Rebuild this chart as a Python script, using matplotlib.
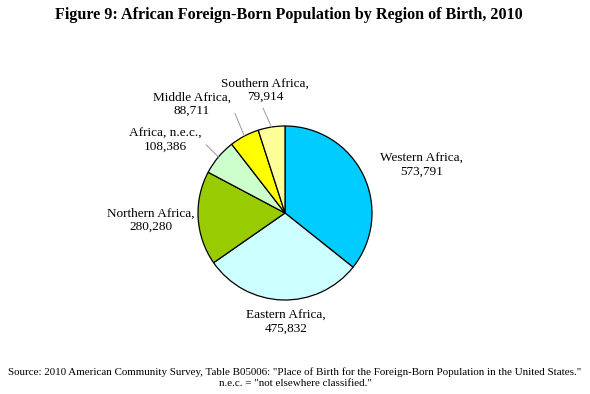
import numpy as np
import matplotlib
matplotlib.use('Agg')
from matplotlib import pyplot as plt

# data
regions = ['Western Africa', 'Eastern Africa', 'Northern Africa',
           'Africa, n.e.c.', 'Middle Africa', 'Southern Africa']
population = [573791, 475832, 280280, 108386, 88711, 79914]
colors = ['#00CCFF', '#CCFFFF', '#99CC00', '#CCFFCC', '#FFFF00', '#FFFF99']

title = 'Figure 9: African Foreign-Born Population by Region of Birth, 2010'
source = ('Source: 2010 American Community Survey, Table B05006: "Place of Birth for the '
          'Foreign-Born Population in the United States."\nn.e.c. = "not elsewhere classified."')

plt.rcParams['font.family'] = ['Liberation Serif', 'DejaVu Serif']

W, H = 590, 394
fig = plt.figure(figsize=(W / 100, H / 100), dpi=100)

# pie placement in pixels (center and radius)
cx, cy, r = 285, 213, 87
ax = fig.add_axes([(cx - r) / W, (H - cy - r) / H, 2 * r / W, 2 * r / H])
wedges, _ = ax.pie(population, colors=colors, startangle=90, counterclock=False,
                   wedgeprops=dict(edgecolor='black', linewidth=0.9))
ax.set_xlim(-1, 1)
ax.set_ylim(-1, 1)
ax.set_aspect('equal')
ax.axis('off')


def px2data(px, py):
    return (px - cx) / r, (cy - py) / r


# label positions in pixels, leader line start (relpos on the text box) or None
label_pos = [(422, 165, None), (286, 322, None), (151, 220, None),
             (165, 140, (1.0, 0.5)), (192, 104, (1.0, 0.5)), (265, 90, (0.45, 0.0))]

for w, name, val, (px, py, rel) in zip(wedges, regions, population, label_pos):
    txt = f'{name},\n{val:,}'
    tx, ty = px2data(px, py)
    if rel is not None:
        mid = np.deg2rad((w.theta1 + w.theta2) / 2)
        ax.annotate(txt, xy=(np.cos(mid), np.sin(mid)), xytext=(tx, ty),
                    ha='center', va='center', fontsize=9.5, linespacing=1.15,
                    annotation_clip=False,
                    arrowprops=dict(arrowstyle='-', color='#999999', lw=0.7,
                                    shrinkA=2, shrinkB=0, relpos=rel))
    else:
        ax.text(tx, ty, txt, ha='center', va='center', fontsize=9.5,
                linespacing=1.15, clip_on=False)

fig.text(288.5 / W, 1 - 15 / H, title, ha='center', va='center',
         fontsize=11.6, fontweight='bold')
fig.text(0.5, 1 - 378 / H, source, ha='center', va='center',
         fontsize=7.9, linespacing=1.25)

fig.savefig('out.png', dpi=100)
